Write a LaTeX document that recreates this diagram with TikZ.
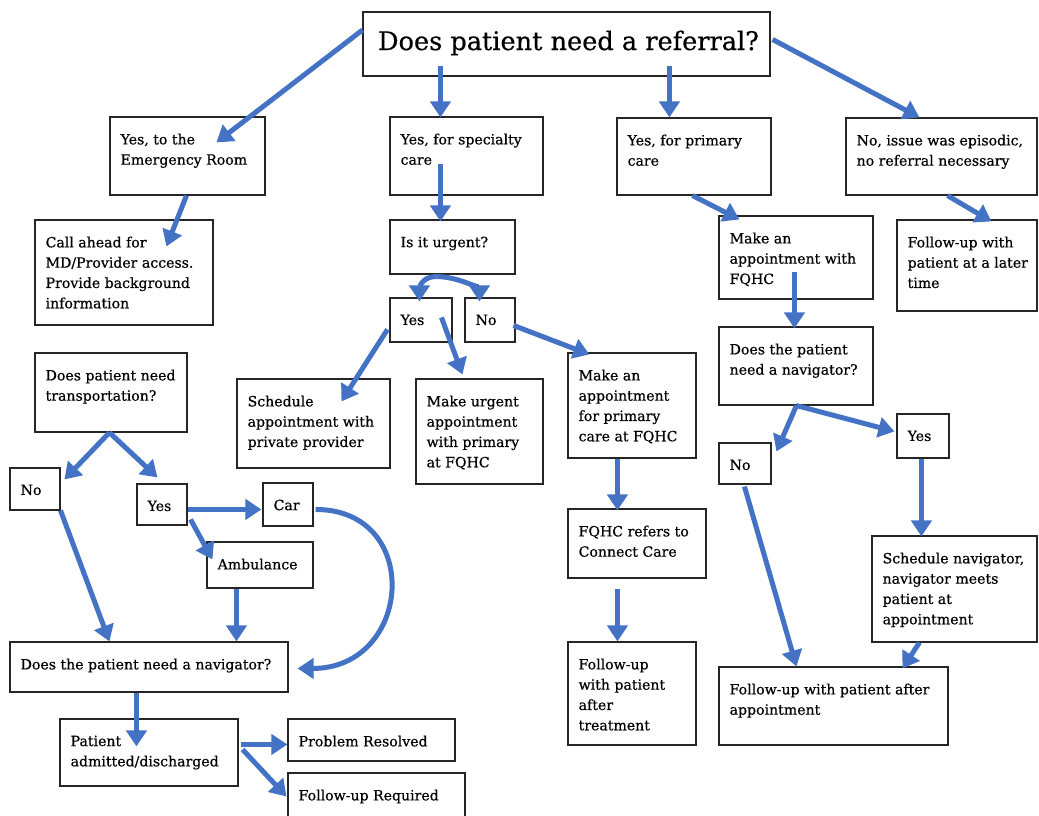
\documentclass[tikz,border=0pt]{standalone}
\usepackage{fontspec}
\setmainfont{DejaVu Serif}
\newfontfamily\boxfont{DejaVu Serif}[FakeBold=0.5]
\usetikzlibrary{arrows.meta,calc,fit}
\definecolor{arrowblue}{RGB}{68,114,196}
\tikzset{
  box/.style={draw=black!85, line width=1.1pt, inner sep=0pt, rectangle},
  txt/.style={anchor=north west, inner sep=0pt, align=left, font=\boxfont\fontsize{14.1}{20.3}\selectfont, text=black},
  arr/.style={draw=arrowblue, line width=5pt, -{Triangle[length=16pt,width=20pt]}},
}
\newcommand\bx[6]{%
  \node[box, fit={(#2,#3) (#4,#5)}] (#1) {};
  \node[txt] (#1t) at ($(#1.north west)+(11,17)$) {#6};
}
\begin{document}
\begin{tikzpicture}[x=1pt,y=-1pt]
\clip (0,0) rectangle (1039,815);
\fill[white] (0,0) rectangle (1039,815);
% boxes
\node[box, fit={(363,12) (770,76)}] (top) {};
\node[font=\boxfont\fontsize{25.6}{30}\selectfont, inner sep=0pt] (topt) at ($(top.center)+(2,-1)$) {Does patient need a referral?};
\bx{er}{110}{117}{265}{195}{Yes, to the\\Emergency Room}
\bx{spec}{390}{117}{543}{195}{Yes, for specialty\\care}
\bx{prim}{617}{118}{771}{195}{Yes, for primary\\care}
\bx{epi}{846}{118}{1037}{195}{No, issue was episodic,\\no referral necessary}
\bx{call}{35}{220}{213}{325}{Call ahead for\\MD/Provider access.\\Provide background\\information}
\bx{urg}{390}{220}{515}{274}{Is it urgent?}
\bx{mkfq}{719}{216}{873}{299}{Make an\\appointment with\\FQHC}
\bx{fulater}{897}{220}{1037}{311}{Follow-up with\\patient at a later\\time}
\bx{yesU}{390}{298}{452}{342}{Yes}
\bx{noU}{465}{298}{515}{342}{No}
\bx{trans}{35}{353}{187}{432}{Does patient need\\transportation?}
\bx{sched}{237}{379}{390}{468}{Schedule\\appointment with\\private provider}
\bx{urgapp}{416}{379}{543}{484}{Make urgent\\appointment\\with primary\\at FQHC}
\bx{mkpc}{568}{353}{696}{458}{Make an\\appointment\\for primary\\care at FQHC}
\bx{navR}{719}{327}{873}{405}{Does the patient\\need a navigator?}
\bx{yesR}{897}{414}{949}{458}{Yes}
\bx{noR}{719}{443}{771}{484}{No}
\bx{noL}{10}{468}{60}{510}{No}
\bx{yesL}{137}{484}{187}{525}{Yes}
\bx{car}{263}{483}{313}{526}{Car}
\bx{amb}{207}{542}{313}{588}{Ambulance}
\bx{navL}{10}{642}{288}{692}{Does the patient need a navigator?}
\bx{adm}{60}{719}{238}{786}{Patient\\admitted/discharged}
\bx{res}{288}{719}{455}{761}{Problem Resolved}
\bx{fureq}{288}{773}{465}{830}{Follow-up Required}
\bx{fqref}{568}{509}{706}{578}{FQHC refers to\\Connect Care}
\bx{futreat}{568}{642}{696}{745}{Follow-up\\with patient\\after\\treatment}
\bx{fuappt}{719}{667}{948}{745}{Follow-up with patient after\\appointment}
\bx{schnav}{872}{536}{1037}{642}{Schedule navigator,\\navigator meets\\patient at\\appointment}
% arrows
\draw[arr] ($(top.west)+(0,-14)$) -- ($(er.north west)+(107,26)$);
\draw[arr] ($(top.south west)+(78,-11)$) -- ($(spec.north west)+(51,1)$);
\draw[arr] ($(top.south west)+(307,-11)$) -- ($(prim.north west)+(53,0)$);
\draw[arr] ($(top.north east)+(2,28)$) -- ($(epi.north west)+(74,0)$);
\draw[arr] ($(er.south west)+(77,0)$) -- ($(call.north west)+(132,27)$);
\draw[arr] ($(spec.north west)+(51,48)$) -- ($(urg.north west)+(51,2)$);
\draw[arr] ($(prim.south west)+(76,0)$) -- ($(mkfq.north west)+(21,4)$);
\draw[arr] ($(epi.south west)+(102,0)$) -- ($(fulater.north west)+(95,2)$);
\draw[arr] ($(mkfq.north west)+(76,57)$) -- ($(navR.north west)+(76,2)$);
\coordinate (fork) at ($(urg.south west)+(47,2)$);
\draw[arr] (fork) .. controls +(-16,0) and +(0,-12) .. ($(yesU.north west)+(30,4)$);
\draw[arr] (fork) .. controls +(22,0) and +(0,-12) .. ($(noU.north west)+(15,4)$);
\draw[arr] ($(yesU.north west)+(-2,32)$) -- ($(sched.north west)+(105,23)$);
\draw[arr] ($(yesU.north west)+(52,20)$) -- ($(urgapp.north west)+(47,-4)$);
\draw[arr] ($(noU.north west)+(49,28)$) -- ($(mkpc.north west)+(22,2)$);
\coordinate (tfork) at ($(trans.south west)+(75,0)$);
\draw[arr] (tfork) -- ($(noL.north west)+(55,12)$);
\draw[arr] (tfork) -- ($(yesL.north west)+(21,-6)$);
\draw[arr] (noL.south east) -- ($(navL.north west)+(100,0)$);
\draw[arr] ($(yesL.north east)+(0,26)$) -- ($(car.north west)+(-1,27)$);
\draw[arr] ($(yesL.north east)+(3,36)$) -- ($(amb.north west)+(6,18)$);
\draw[arr] ($(amb.south west)+(30,0)$) -- ($(navL.north west)+(227,0)$);
\draw[arr] ($(car.north east)+(2,27)$) .. controls +(108,0) and +(115,0) .. ($(navL.north east)+(9,27)$);
\draw[arr] ($(navL.south west)+(127,0)$) -- ($(adm.north west)+(77,28)$);
\draw[arr] ($(adm.north east)+(2,26)$) -- ($(res.north west)+(0,26)$);
\draw[arr] ($(adm.north east)+(4,31)$) -- ($(fureq.north west)+(-1,24)$);
\draw[arr] ($(mkpc.south west)+(50,0)$) -- ($(fqref.north west)+(50,2)$);
\draw[arr] ($(fqref.south west)+(50,10)$) -- ($(futreat.north west)+(50,0)$);
\coordinate (nfork) at ($(navR.south west)+(78,0)$);
\draw[arr] (nfork) -- ($(noR.north west)+(58,9)$);
\draw[arr] (nfork) -- ($(yesR.north west)+(-2,18)$);
\draw[arr] ($(noR.south west)+(26,2)$) -- ($(fuappt.north west)+(78,0)$);
\draw[arr] ($(yesR.south west)+(25,0)$) -- ($(schnav.north west)+(50,1)$);
\draw[arr] ($(schnav.south west)+(48,0)$) -- ($(fuappt.north west)+(184,2)$);
\end{tikzpicture}
\end{document}
